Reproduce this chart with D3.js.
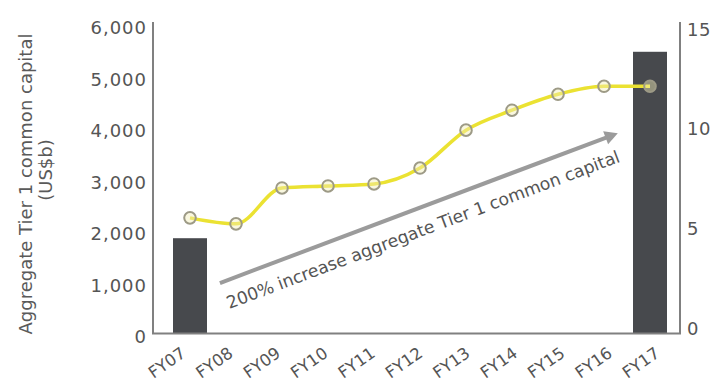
<!DOCTYPE html>
<html>
<head>
<meta charset="utf-8">
<script src="https://cdn.jsdelivr.net/npm/d3@7/dist/d3.min.js"></script>
<style>
  html, body { margin: 0; padding: 0; background: #fff; }
  svg { display: block; font-family: "DejaVu Sans", Verdana, sans-serif; }
</style>
</head>
<body>
<svg id="chart" width="715" height="385"></svg>
<script>
// ---- data ----
const categories = ["FY07","FY08","FY09","FY10","FY11","FY12","FY13","FY14","FY15","FY16","FY17"];
const barCategories = ["FY07","FY17"];
const barValues = [1860, 5480];               // aggregate Tier 1 common capital (US$b), left axis
const ratioValues = [5.5, 5.2, 7.0, 7.1, 7.2, 8.0, 9.9, 10.9, 11.7, 12.1, 12.1]; // right axis
const leftTicks = [0, 1000, 2000, 3000, 4000, 5000, 6000];
const rightTicks = [0, 5, 10, 15];
const yTitleLines = ["Aggregate Tier 1 common capital", "(US$b)"];
const arrowText = "200% increase aggregate Tier 1 common capital";
const arrowFrom = [0.65, 990];   // [category index, left-axis value]
const arrowTo = [9.3, 3900];

// ---- layout ----
const svg = d3.select("#chart");
const plotL = 153, plotR = 680, plotT = 22, plotB = 334;
const textColor = "#555555", axisColor = "#808080";

const xi = d3.scaleLinear().domain([0, categories.length - 1]).range([190, 650]);
const x = c => xi(categories.indexOf(c));
const xLabel = d3.scalePoint().domain(categories).range([180, 654]);
const yL = d3.scaleLinear().domain([0, 6000]).range([plotB, 25]);
const yR = d3.scaleLinear().domain([0, 15]).range([327.5, 28.5]);
const barW = 34;

// bars
svg.append("g").selectAll("rect").data(barCategories).join("rect")
  .attr("x", d => x(d) - barW / 2)
  .attr("width", barW)
  .attr("y", (d, i) => yL(barValues[i]))
  .attr("height", (d, i) => yL(0) - yL(barValues[i]))
  .attr("fill", "#47494d");

// axis lines
const axes = svg.append("g").attr("stroke", axisColor).attr("stroke-width", 2);
axes.append("line").attr("x1", plotL).attr("x2", plotL).attr("y1", plotT).attr("y2", plotB);
axes.append("line").attr("x1", plotR).attr("x2", plotR).attr("y1", plotT).attr("y2", plotB);
axes.append("line").attr("x1", plotL - 1).attr("x2", plotR + 1).attr("y1", plotB - 0.5).attr("y2", plotB - 0.5);

// left axis labels
const gL = svg.append("g").attr("transform", `translate(${plotL},3)`)
  .call(d3.axisLeft(yL).tickValues(leftTicks).tickSize(0).tickPadding(6).tickFormat(d3.format(",")));
gL.select(".domain").remove();
gL.selectAll("text").attr("fill", textColor)
  .style("font-size", "18px").style("font-family", "DejaVu Sans").style("letter-spacing", "1px");

// right axis labels
const gR = svg.append("g").attr("transform", `translate(${plotR},1)`)
  .call(d3.axisRight(yR).tickValues(rightTicks).tickSize(0).tickPadding(7));
gR.select(".domain").remove();
gR.selectAll("text").attr("fill", textColor)
  .style("font-size", "18px").style("font-family", "DejaVu Sans").style("letter-spacing", "0.5px");

// x labels
svg.append("g").selectAll("text").data(categories).join("text")
  .attr("transform", d => `translate(${xLabel(d)},346) rotate(-35)`)
  .attr("text-anchor", "end")
  .attr("dy", "0.72em")
  .attr("fill", textColor)
  .style("font-size", "16.5px")
  .text(d => d);

// y title
const titlePos = [[32, 184], [52, 170]];
svg.append("g").selectAll("text").data(yTitleLines).join("text")
  .attr("transform", (d, i) => `translate(${titlePos[i][0]},${titlePos[i][1]}) rotate(-90)`)
  .attr("text-anchor", "middle")
  .attr("fill", "#5a5a5a")
  .style("font-size", "18px")
  .text(d => d);

// arrow annotation
const ax1 = xi(arrowFrom[0]), ay1 = yL(arrowFrom[1]);
const ax2 = xi(arrowTo[0]), ay2 = yL(arrowTo[1]);
const ang = Math.atan2(ay2 - ay1, ax2 - ax1);
const headLen = 13, headW = 7;
const bx = ax2 - headLen * Math.cos(ang), by = ay2 - headLen * Math.sin(ang);
svg.append("line")
  .attr("x1", ax1).attr("y1", ay1).attr("x2", bx + 2 * Math.cos(ang)).attr("y2", by + 2 * Math.sin(ang))
  .attr("stroke", "#9b9b9b").attr("stroke-width", 4);
svg.append("path")
  .attr("d", `M${ax2},${ay2} L${bx - headW * Math.sin(ang)},${by + headW * Math.cos(ang)} L${bx + headW * Math.sin(ang)},${by - headW * Math.cos(ang)} Z`)
  .attr("fill", "#9b9b9b");
const mx = (ax1 + ax2) / 2, my = (ay1 + ay2) / 2;
const off = 29;
svg.append("text")
  .attr("transform", `translate(${mx - off * Math.sin(ang) - 4},${my + off * Math.cos(ang)}) rotate(${ang * 180 / Math.PI})`)
  .attr("text-anchor", "middle")
  .attr("fill", textColor)
  .style("font-size", "17.2px")
  .text(arrowText);

// line
const line = d3.line()
  .x((d, i) => xi(i))
  .y(d => yR(d))
  .curve(d3.curveMonotoneX);
svg.append("path").datum(ratioValues)
  .attr("d", line)
  .attr("fill", "none")
  .attr("stroke", "#ebe232")
  .attr("stroke-width", 3.5);

svg.append("g").selectAll("circle").data(ratioValues).join("circle")
  .attr("cx", (d, i) => xi(i))
  .attr("cy", d => yR(d))
  .attr("r", 5.8)
  .attr("fill", "#f2eeb8")
  .attr("fill-opacity", 0.45)
  .attr("stroke", "#9d9a86")
  .attr("stroke-width", 2);
</script>
</body>
</html>
